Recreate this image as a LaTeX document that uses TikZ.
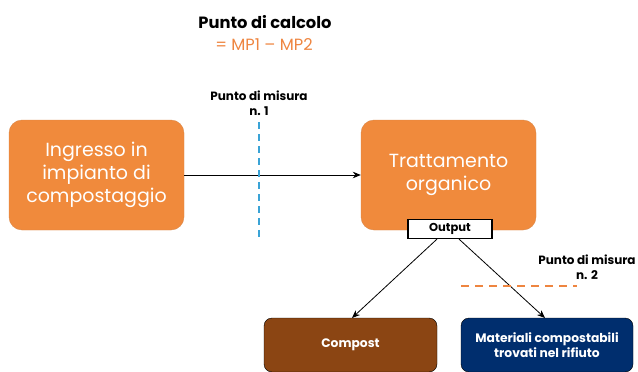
\documentclass[tikz,border=0pt]{standalone}
\usepackage{fontspec}
\setmainfont{Poppins}
\usetikzlibrary{arrows.meta}
\definecolor{procorange}{HTML}{F08A3C}
\definecolor{calcorange}{HTML}{EE8540}
\definecolor{compbrown}{HTML}{8B4513}
\definecolor{wastenavy}{HTML}{002E6E}
\definecolor{misblue}{HTML}{3AA3D6}
\begin{document}
\begin{tikzpicture}[x=1pt,y=-1pt]
      \tikzstyle{procnode}=[fill=procorange, draw=procorange!80!gray, rounded corners=13pt, text=white, align=center, font=\fontsize{19}{23}\selectfont, inner sep=0pt]
      \tikzstyle{outnode}=[draw=black, thin, rounded corners=8pt, text=white, align=center, font=\fontsize{12.3}{15}\selectfont\bfseries, inner sep=0pt]
      \tikzstyle{labelnode}=[align=center, font=\fontsize{12}{14.5}\selectfont\bfseries]
      \tikzstyle{flow}=[draw, line width=0.8pt, -{Stealth[length=8pt,width=6.5pt]}]
      \useasboundingbox (0,0) rectangle (638,372);
      % titolo
      \node[font=\fontsize{16.3}{18}\selectfont\bfseries] (calc) at (265,22) {Punto di calcolo};
      \node[font=\fontsize{16.3}{18}\selectfont, text=calcorange] (formula) at (264,45) {= MP1 -- MP2};
      % processi
      \node[procnode, minimum width=175pt, minimum height=110pt] (ingresso) at (96.5,175) {Ingresso in\\impianto di\\compostaggio};
      \node[procnode, minimum width=175pt, minimum height=110pt] (trattamento) at (448.5,175) {Trattamento\\organico};
      \node[draw=black, fill=white, line width=1.2pt, minimum width=84pt, minimum height=19pt, inner sep=0pt, font=\fontsize{11.5}{13}\selectfont\bfseries] (output) at (450,229) {Output};
      % uscite
      \node[outnode, fill=compbrown, minimum width=173pt, minimum height=54pt] (compost) at (350.5,345) {Compost};
      \node[outnode, fill=wastenavy, minimum width=172pt, minimum height=54pt] (materiali) at (547,345) {Materiali compostabili\\trovati nel rifiuto};
      % connettori
      \draw[flow] (ingresso) -- (trattamento);
      \draw[flow] (output.south -| 437,0) -- (352,318);
      \draw[flow] (output.south -| 459,0) -- (545,318);
      % punti di misura
      \node[labelnode] (misura1) at (259,103) {Punto di misura\\n. 1};
      \coordinate (m1top) at (259,122);
      \coordinate (m1bot) at (259,238);
      \draw[misblue, line width=2.2pt, dash pattern=on 7pt off 5pt] (m1top) -- (m1bot);
      \node[labelnode] (misura2) at (587,267) {Punto di misura\\n. 2};
      \coordinate (m2left) at (461,286);
      \coordinate (m2right) at (577,286);
      \draw[calcorange, line width=2.2pt, dash pattern=on 8pt off 6pt] (m2left) -- (m2right);
\end{tikzpicture}
\end{document}
